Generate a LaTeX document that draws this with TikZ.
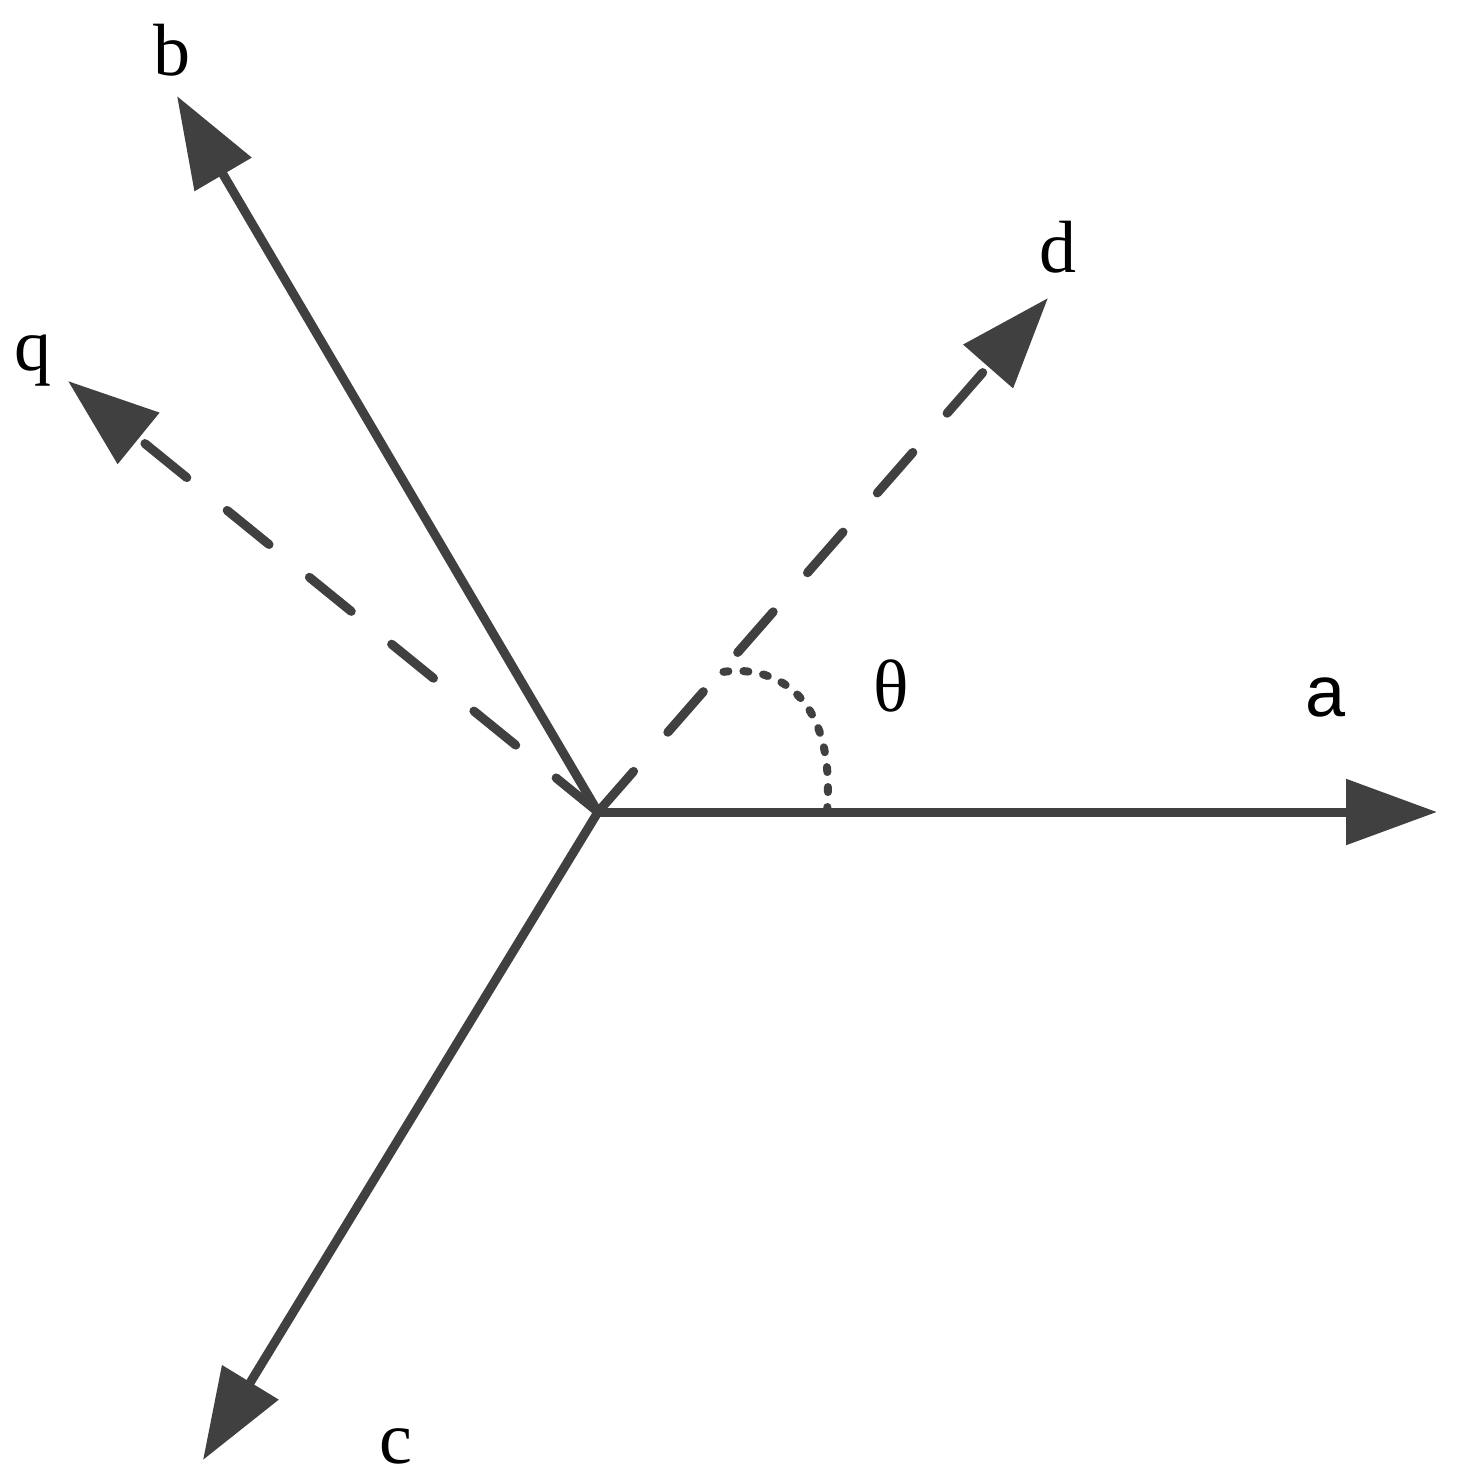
\documentclass[tikz,border=0pt]{standalone}
\usepackage{fontspec}
\setmainfont{Liberation Serif}
\newfontfamily\labelsans{Liberation Sans}
\usetikzlibrary{arrows.meta}
\definecolor{axisgray}{HTML}{404040}

\begin{document}
\begin{tikzpicture}[
  x=0.5pt, y=-0.5pt,
  axis line/.style={
    draw=axisgray,
    line width=4.5pt,
    -{Triangle[length=45.5pt,width=32pt]},
  },
  dashed axis/.style={
    axis line,
    line cap=round,
    dash pattern=on 27pt off 26pt,
  },
  angle arc/.style={
    draw=axisgray,
    line width=4pt,
    line cap=round,
    dash pattern=on 2.5pt off 7.5pt,
  },
  axis label/.style={
    anchor=base,
    inner sep=0pt,
    font=\fontsize{37}{40}\selectfont,
  },
  ]
  \useasboundingbox (0,0) rectangle (1458,1484);
  \coordinate (origin) at (598,812);
  \coordinate (a-tip) at (1437,812);
  \coordinate (b-tip) at (177,96);
  \coordinate (c-tip) at (203,1460);
  \coordinate (d-tip) at (1048,298);
  \coordinate (q-tip) at (68,381);

  \draw[axis line] (origin) -- (a-tip);
  \draw[axis line] (origin) -- (b-tip);
  \draw[axis line] (origin) -- (c-tip);
  \draw[dashed axis] (origin) -- (d-tip);
  \draw[dashed axis] (origin) -- (q-tip);

  \coordinate (arc-start) at (827,812);
  \coordinate (arc-end) at (722,672);
  \draw[angle arc] (arc-start) .. controls (836,700) and (780,664) .. (arc-end);

  \node[axis label,font=\labelsans\fontsize{36}{40}\selectfont] (label-a) at (1326,716) {a};
  \node[axis label] (label-b) at (172,75) {b};
  \node[axis label] (label-c) at (396,1463) {c};
  \node[axis label] (label-d) at (1058,272) {d};
  \node[axis label] (label-q) at (33,370) {q};
  \node[axis label] (label-theta) at (891,711) {θ};
\end{tikzpicture}
\end{document}
